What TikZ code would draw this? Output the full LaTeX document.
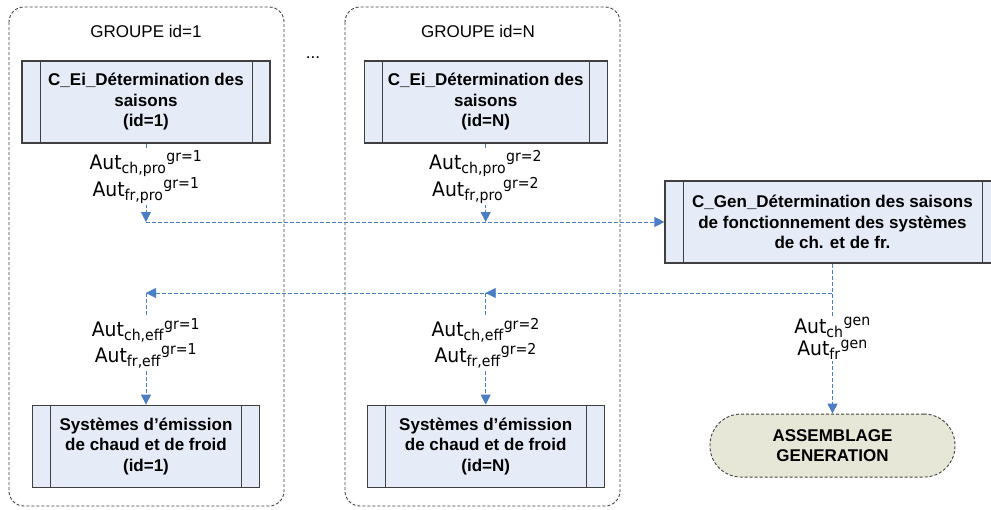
\documentclass[tikz,border=0pt]{standalone}
\usepackage{fontspec}
\setmainfont{Liberation Sans}
\newfontfamily\verd[FakeStretch=0.94]{DejaVu Sans}
\usepackage{xcolor}
\usepackage{tikz}
\usetikzlibrary{arrows.meta}
\usetikzlibrary{positioning}
\definecolor{fondbleu}{RGB}{230,236,247}
\definecolor{fondolive}{RGB}{231,231,216}
\definecolor{trait}{RGB}{74,126,196}
\definecolor{bord}{RGB}{64,64,64}
\newcommand{\indice}[1]{\fontsize{15}{15}\selectfont #1}
\newcommand{\aut}[2]{Aut\textsubscript{\indice{#1}}\textsuperscript{\indice{#2}}}
\tikzset{
  processus/.style={draw=bord, line width=1.2pt, fill=fondbleu, align=center, minimum width=#1, minimum height=82pt, inner sep=0pt, font=\fontsize{17}{20.5}\selectfont\bfseries,
    path picture={\draw[bord, line width=1pt] ([xshift=18pt]path picture bounding box.north west) -- ([xshift=18pt]path picture bounding box.south west)
      ([xshift=-18pt]path picture bounding box.north east) -- ([xshift=-18pt]path picture bounding box.south east);}},
  processus/.default=248pt,
  groupe/.style={draw=bord, dash pattern=on 3pt off 2pt, line width=0.9pt, rounded corners=15pt},
  terminal/.style={draw=bord, dash pattern=on 3pt off 2pt, line width=0.9pt, fill=fondolive, rounded corners=31pt, align=center, minimum width=245pt, minimum height=63pt, inner sep=0pt, font=\fontsize{17}{20.5}\selectfont\bfseries},
  titre/.style={font=\fontsize{17}{20.5}\selectfont},
  flux/.style={trait, dash pattern=on 4pt off 2pt, line width=0.9pt, -{Triangle[width=10pt,length=10pt]}},
  etiquette/.style={fill=white, inner sep=1pt, align=center, text=black, font=\verd\fontsize{20}{22.5}\selectfont},
}
\begin{document}
\begin{tikzpicture}[x=1pt, y=-1pt]
  \useasboundingbox (0,0) rectangle (991,509);
  \clip (0,0) rectangle (991,509);

  \draw[groupe] (9,7) rectangle (284,506);
  \draw[groupe] (345,7) rectangle (620,506);
  \node[titre] (t1) at (146,31) {GROUPE id=1};
  \node[titre] (tn) at (478,31) {GROUPE id=N};
  \node[titre] (points) at (313,58) {...};

  \node[processus] (cei1) at (146,102) {C\_Ei\_Détermination des\\saisons\\(id=1)};
  \node[processus=243pt, right=93pt of cei1] (ceiN) {C\_Ei\_Détermination des\\saisons\\(id=N)};
  \node[processus=227pt, below=261pt of cei1] (sys1) {Systèmes d’émission\\de chaud et de froid\\(id=1)};
  \node[processus=237pt, below=261pt of ceiN] (sysN) {Systèmes d’émission\\de chaud et de froid\\(id=N)};
  \node[processus=335pt] (gen) at (832.5,222) {C\_Gen\_Détermination des saisons\\de fonctionnement des systèmes\\de ch. et de fr.};
  \node[terminal, below=150pt of gen] (asm) {ASSEMBLAGE\\GENERATION};

  \coordinate (retour) at (0,293);
  \coordinate (j1) at (cei1.south |- gen.west);
  \coordinate (jN) at (ceiN.south |- gen.west);
  \coordinate (k1) at (sys1.north |- retour);
  \coordinate (kN) at (sysN.north |- retour);

  \draw[flux] (cei1) -- node[etiquette, pos=0.43]{\aut{ch,pro}{gr=1}\\\aut{fr,pro}{gr=1}} (j1);
  \draw[flux] (ceiN) -- node[etiquette, pos=0.43]{\aut{ch,pro}{gr=2}\\\aut{fr,pro}{gr=2}} (jN);
  \draw[flux] (j1) -- (gen);
  \draw[flux] (gen) |- (k1);
  \draw[flux] (gen) |- (kN);
  \draw[flux] (k1) -- node[etiquette, pos=0.45]{\aut{ch,eff}{gr=1}\\\aut{fr,eff}{gr=1}} (sys1);
  \draw[flux] (kN) -- node[etiquette, pos=0.45]{\aut{ch,eff}{gr=2}\\\aut{fr,eff}{gr=2}} (sysN);
  \draw[flux] (gen) -- node[etiquette, pos=0.5]{\aut{ch}{gen}\\\aut{fr}{gen}} (asm);
\end{tikzpicture}
\end{document}
